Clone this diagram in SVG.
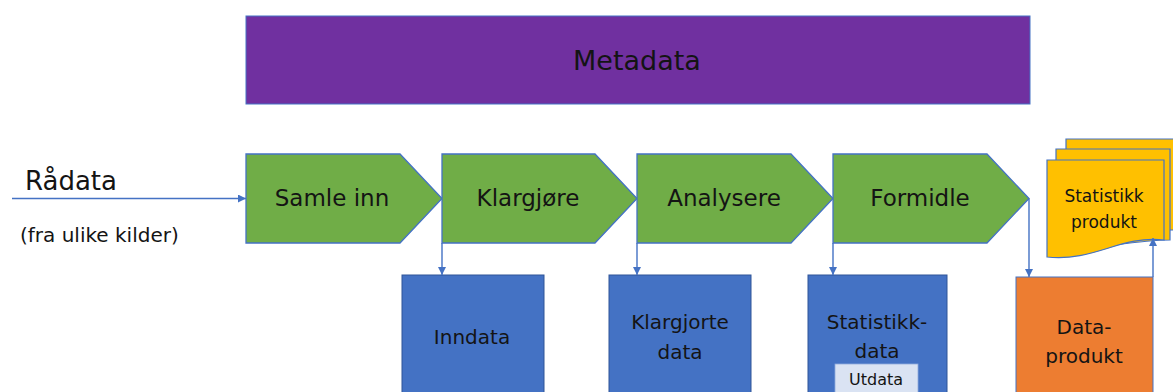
<svg xmlns="http://www.w3.org/2000/svg" width="1173" height="392" viewBox="0 0 1173 392">
<style>
.t{font-family:"DejaVu Sans","Liberation Sans",Arial,sans-serif;fill:#141414;text-anchor:middle;dominant-baseline:central}
.l{font-family:"DejaVu Sans","Liberation Sans",Arial,sans-serif;fill:#141414;dominant-baseline:central}
.stage{fill:#70AD47;stroke:#4472C4;stroke-width:1.3}
.box{fill:#4472C4;stroke:#2F5597;stroke-width:1}
.doc{fill:#FFC000;stroke:#4472C4;stroke-width:1.2}
.con{fill:none;stroke:#4472C4;stroke-width:1.4}
</style>
<defs>
<marker id="ah" viewBox="0 0 10 10" refX="10" refY="5" markerWidth="8" markerHeight="8" orient="auto" markerUnits="userSpaceOnUse">
<path d="M0,0 L10,5 L0,10 z" fill="#4472C4"/>
</marker>
</defs>
<rect width="1173" height="392" fill="#fff"/>
<g id="metadata">
<rect x="246" y="16" width="784" height="88" fill="#7030A0" stroke="#4472C4" stroke-width="1"/>
<text class="t" x="637" y="60" font-size="27">Metadata</text>
</g>
<g id="raadata">
<text class="l" x="25" y="181" font-size="26">Rådata</text>
<text class="l" x="20" y="235" font-size="20">(fra ulike kilder)</text>
</g>
<g id="samle-inn">
<path class="stage" d="M246,154 H400 L442,198.5 L400,243 H246 Z"/>
<text class="t" x="332" y="198" font-size="23">Samle inn</text>
</g>
<g id="klargjore">
<path class="stage" d="M442,154 H595 L637,198.5 L595,243 H442 Z"/>
<text class="t" x="528" y="198" font-size="23">Klargjøre</text>
</g>
<g id="analysere">
<path class="stage" d="M637,154 H791 L833,198.5 L791,243 H637 Z"/>
<text class="t" x="724" y="198" font-size="23">Analysere</text>
</g>
<g id="formidle">
<path class="stage" d="M833,154 H987 L1029,198.5 L987,243 H833 Z"/>
<text class="t" x="920" y="198" font-size="23">Formidle</text>
</g>
<g id="inndata">
<rect class="box" x="402" y="275" width="142" height="125"/>
<text class="t" x="472" y="337" font-size="20">Inndata</text>
</g>
<g id="klargjorte-data">
<rect class="box" x="609" y="275" width="142" height="125"/>
<text class="t" x="680" y="322" font-size="20">Klargjorte</text>
<text class="t" x="680" y="352" font-size="20">data</text>
</g>
<g id="statistikkdata">
<rect class="box" x="808" y="275" width="139" height="125"/>
<text class="t" x="877" y="322" font-size="20">Statistikk-</text>
<text class="t" x="877" y="351" font-size="20">data</text>
<rect x="835" y="364" width="83" height="36" fill="#DAE3F3" stroke="#8FAADC" stroke-width="0.8"/>
<text class="t" x="876" y="379" font-size="16">Utdata</text>
</g>
<g id="dataprodukt">
<rect x="1016" y="277" width="137" height="125" fill="#ED7D31" stroke="#4472C4" stroke-width="1"/>
<text class="t" x="1084" y="327" font-size="20">Data-</text>
<text class="t" x="1084" y="356" font-size="20">produkt</text>
</g>
<g id="statistikk-produkt">
<path class="doc" d="M1066,139 H1180 V230 H1066 Z"/>
<path class="doc" d="M1056,149 H1170 V240 C1130,240 1100,250 1056,250 Z"/>
<path class="doc" d="M1047,160 H1164 V240 C1120,235 1095,262 1047,257 Z"/>
<text class="t" x="1104" y="196" font-size="17">Statistikk</text>
<text class="t" x="1104" y="222" font-size="17">produkt</text>
</g>
<g id="connectors">
<path class="con" d="M12,198.5 H246" marker-end="url(#ah)"/>
<path class="con" d="M442,243 V275" marker-end="url(#ah)"/>
<path class="con" d="M637,243 V275" marker-end="url(#ah)"/>
<path class="con" d="M833,243 V275" marker-end="url(#ah)"/>
<path class="con" d="M1029,198.5 V277" marker-end="url(#ah)"/>
<path class="con" d="M1153,277 V238" marker-end="url(#ah)"/>
</g>
</svg>
